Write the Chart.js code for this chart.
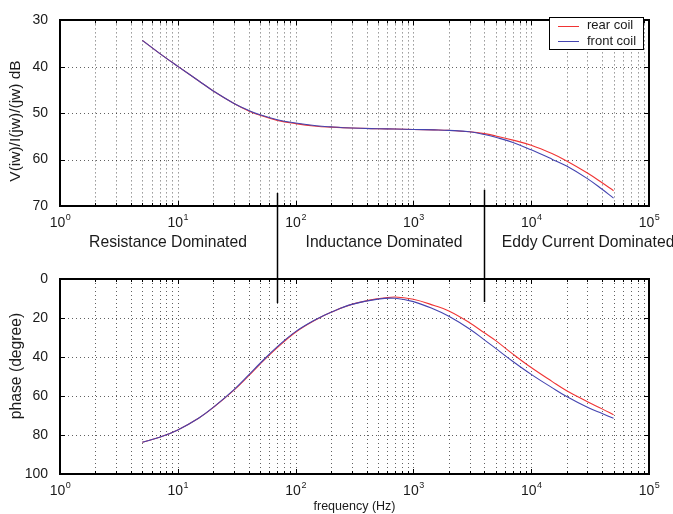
<!DOCTYPE html>
<html>
<head>
<meta charset="utf-8">
<script src="https://cdn.jsdelivr.net/npm/chart.js@4.4.1/dist/chart.umd.min.js"></script>
<style>
html,body{margin:0;padding:0;background:#fff;}
#wrap{position:relative;width:673px;height:514px;overflow:hidden;}
#c1{position:absolute;left:0;top:0;}
#c2{position:absolute;left:0;top:258px;}
</style>
</head>
<body>
<div id="wrap">
<canvas id="c1" width="673" height="258"></canvas>
<canvas id="c2" width="673" height="256"></canvas>
</div>
<script>
// ---------------- data ----------------
const frequency = [5,7,10,15,20,30,40,50,70,100,150,200,300,500,700,1000,1500,2000,3000,4000,5000,7000,10000,15000,20000,30000,40000,50000];
const rearMagnitude  = [34.3,37.1,39.9,43.0,45.2,47.9,49.5,50.45,51.55,52.25,52.8,53.0,53.2,53.35,53.42,53.5,53.6,53.7,54.0,54.4,54.9,55.8,56.9,58.7,60.3,62.9,65.0,66.7];
const frontMagnitude = [34.3,37.1,39.9,43.0,45.2,47.9,49.4,50.35,51.4,52.1,52.7,52.95,53.2,53.35,53.42,53.5,53.6,53.7,54.0,54.6,55.2,56.3,57.9,59.9,61.4,64.1,66.4,68.3];
const rearPhase  = [83.7,81.2,77.4,71.4,65.9,57.0,49.6,43.6,35.2,27.3,20.8,17.1,13.0,10.1,9.2,10.4,13.6,16.4,22.4,27.6,31.6,38.5,45.4,52.5,57.3,62.9,66.6,69.6];
const frontPhase = [83.7,81.2,77.4,71.4,65.8,56.7,49.2,43.2,34.7,27.0,20.6,17.0,13.0,10.3,9.9,11.6,15.5,19.1,25.6,31.2,35.6,42.3,48.9,55.7,60.3,65.8,69.0,71.4];
const seriesNames = ['rear coil','front coil'];
const seriesColors = ['#f03434','#4444b0'];

const decadeTicks = [1,10,100,1000,10000,100000];
const decadeExponents = ['0','1','2','3','4','5'];
const xGridTicks = [];
[1,10,100,1000,10000].forEach(d=>{ for(let m=1;m<=9;m++) xGridTicks.push(m*d); });
xGridTicks.push(100000);

const magTicks = [30,40,50,60,70];
const phaseTicks = [0,20,40,60,80,100];

const regionLabels = ['Resistance Dominated','Inductance Dominated','Eddy Current Dominated'];
const regionFreq = [8.26,563,5620];
const regionAlign = ['center','center','left'];

const markerFreq = [70,4000];
const markerMagStart = [67.2,66.5];
const markerPhaseEnd = [12.3,11.8];

const FONT = '"Liberation Sans", Arial, Helvetica, sans-serif';
const TXT = '#1a1a1a';

// ---------------- helpers ----------------
function decadeLabel(ctx, x, y, exp){
  ctx.save();
  ctx.fillStyle = TXT;
  ctx.textBaseline = 'alphabetic';
  ctx.textAlign = 'left';
  ctx.font = '14px ' + FONT;
  const w1 = ctx.measureText('10').width;
  ctx.font = '9px ' + FONT;
  const w2 = ctx.measureText(exp).width;
  const start = x - (w1 + w2) / 2;
  ctx.font = '14px ' + FONT;
  ctx.fillText('10', start, y);
  ctx.font = '9px ' + FONT;
  ctx.fillText(exp, start + w1 + 0.5, y - 7);
  ctx.restore();
}
function seg(ctx,x1,y1,x2,y2){ ctx.beginPath(); ctx.moveTo(x1,y1); ctx.lineTo(x2,y2); ctx.stroke(); }

const axesFrame = {
  id: 'axesFrame',
  beforeDatasetsDraw(chart){
    const {ctx, chartArea:a, scales:{x, y}} = chart;
    ctx.save();
    ctx.strokeStyle = 'rgba(0,0,0,0.62)';
    ctx.lineWidth = 1;
    ctx.setLineDash([1,3]);
    x.ticks.forEach(t=>{
      const px = Math.round(x.getPixelForValue(t.value)) + 0.5;
      if (px <= a.left + 2 || px >= a.right - 2) return;
      seg(ctx, px, a.top, px, a.bottom);
    });
    y.ticks.forEach(t=>{
      const py = Math.round(y.getPixelForValue(t.value)) + 0.5;
      if (py <= a.top + 2 || py >= a.bottom - 2) return;
      seg(ctx, a.left, py, a.right, py);
    });
    ctx.restore();
  },
  afterDatasetsDraw(chart){
    const {ctx, chartArea:a, scales:{x, y}} = chart;
    ctx.save();
    ctx.strokeStyle = '#000';
    ctx.lineWidth = 1;
    ctx.setLineDash([]);
    x.ticks.forEach(t=>{
      const px = Math.round(x.getPixelForValue(t.value)) + 0.5;
      const major = decadeTicks.includes(t.value);
      const L = major ? 5 : 3;
      seg(ctx, px, a.bottom, px, a.bottom - L);
      seg(ctx, px, a.top, px, a.top + L);
    });
    y.ticks.forEach(t=>{
      const py = Math.round(y.getPixelForValue(t.value)) + 0.5;
      seg(ctx, a.left, py, a.left + 5, py);
      seg(ctx, a.right, py, a.right - 5, py);
    });
    ctx.lineWidth = 2;
    ctx.strokeRect(Math.round(a.left), Math.round(a.top), Math.round(a.right - a.left), Math.round(a.bottom - a.top));
    ctx.restore();
  },
  afterDraw(chart){
    const {ctx, chartArea:a, scales:{x}} = chart;
    decadeTicks.forEach((v,i)=>{
      decadeLabel(ctx, x.getPixelForValue(v), a.bottom + 21, decadeExponents[i]);
    });
  }
};

function makeDatasets(a, b){
  return [
    {label: seriesNames[0], data: frequency.map((f,i)=>({x:f, y:a[i]})), borderColor: seriesColors[0], order: 1},
    {label: seriesNames[1], data: frequency.map((f,i)=>({x:f, y:b[i]})), borderColor: seriesColors[1], order: 0}
  ].map(d=>Object.assign(d, {borderWidth:1.1, pointRadius:0, fill:false, tension:0.4}));
}

function makeOptions(yMin, yMax, yStep, yTickList, padTop, xHeight){
  return {
    responsive: false,
    animation: false,
    devicePixelRatio: 1,
    layout: {padding: {top: padTop, right: 24, left: 0, bottom: 0}},
    plugins: {legend: {display:false}, tooltip: {enabled:false}, title:{display:false}},
    scales: {
      x: {
        type: 'logarithmic', min: 1, max: 100000,
        afterBuildTicks(s){ s.ticks = xGridTicks.map(v=>({value:v})); },
        afterFit(s){ s.height = xHeight; },
        ticks: {display:false},
        grid: {display:false, drawTicks:false},
        border: {display:false}
      },
      y: {
        type: 'linear', min: yMin, max: yMax, reverse: true,
        afterBuildTicks(s){ s.ticks = yTickList.map(v=>({value:v})); },
        afterFit(s){ s.width = 60; },
        ticks: {color: TXT, font: {family: FONT, size: 14}, padding: 12, stepSize: yStep},
        grid: {display:false, drawTicks:false},
        border: {display:false}
      }
    }
  };
}

// ---------------- top chart ----------------
const topExtras = {
  id: 'topExtras',
  afterDraw(chart){
    const {ctx, chartArea:a, scales:{x, y}} = chart;
    ctx.save();
    ctx.fillStyle = TXT;
    ctx.font = '15.5px ' + FONT;
    ctx.textAlign = 'center';
    ctx.textBaseline = 'middle';
    ctx.translate(16, 121);
    ctx.rotate(-Math.PI/2);
    ctx.fillText('V(iw)/I(jw)/(jw) dB', 0, 0);
    ctx.restore();

    ctx.save();
    ctx.fillStyle = TXT;
    ctx.font = '15.7px ' + FONT;
    ctx.textBaseline = 'middle';
    regionLabels.forEach((t,i)=>{
      ctx.textAlign = regionAlign[i];
      ctx.fillText(t, x.getPixelForValue(regionFreq[i]), a.bottom + 37);
    });
    ctx.restore();

    ctx.save();
    ctx.strokeStyle = '#000';
    ctx.lineWidth = 1.5;
    markerFreq.forEach((f,i)=>{
      const px = Math.round(x.getPixelForValue(f)) + 0.5;
      seg(ctx, px, y.getPixelForValue(markerMagStart[i]), px, chart.height);
    });
    ctx.restore();

    ctx.save();
    const lx = 549, ly = 17, lw = 94, lh = 32;
    ctx.fillStyle = '#fff';
    ctx.fillRect(lx, ly, lw, lh);
    ctx.strokeStyle = '#000';
    ctx.lineWidth = 1;
    ctx.strokeRect(lx + 0.5, ly + 0.5, lw, lh);
    ctx.font = '13px ' + FONT;
    ctx.textAlign = 'left';
    ctx.textBaseline = 'middle';
    chart.data.datasets.forEach((d,i)=>{
      const yy = ly + 8.5 + i * 15.5;
      ctx.strokeStyle = d.borderColor;
      ctx.lineWidth = 1;
      seg(ctx, lx + 9, Math.round(yy) + 0.5, lx + 30, Math.round(yy) + 0.5);
      ctx.fillStyle = TXT;
      ctx.fillText(d.label, lx + 38, yy);
    });
    ctx.restore();
  }
};

new Chart(document.getElementById('c1'), {
  type: 'line',
  data: {datasets: makeDatasets(rearMagnitude, frontMagnitude)},
  options: makeOptions(30, 70, 10, magTicks, 10, 52),
  plugins: [axesFrame, topExtras]
});

// ---------------- bottom chart ----------------
const bottomExtras = {
  id: 'bottomExtras',
  afterDraw(chart){
    const {ctx, chartArea:a, scales:{x, y}} = chart;
    ctx.save();
    ctx.fillStyle = TXT;
    ctx.font = '15.7px ' + FONT;
    ctx.textAlign = 'center';
    ctx.textBaseline = 'middle';
    ctx.translate(17, 108);
    ctx.rotate(-Math.PI/2);
    ctx.fillText('phase (degree)', 0, 0);
    ctx.restore();

    ctx.save();
    ctx.fillStyle = TXT;
    ctx.font = '12.5px ' + FONT;
    ctx.textAlign = 'center';
    ctx.textBaseline = 'middle';
    ctx.fillText('frequency (Hz)', (a.left + a.right) / 2, a.bottom + 33);
    ctx.restore();

    ctx.save();
    ctx.strokeStyle = '#000';
    ctx.lineWidth = 1.5;
    markerFreq.forEach((f,i)=>{
      const px = Math.round(x.getPixelForValue(f)) + 0.5;
      seg(ctx, px, 0, px, y.getPixelForValue(markerPhaseEnd[i]));
    });
    ctx.restore();
  }
};

new Chart(document.getElementById('c2'), {
  type: 'line',
  data: {datasets: makeDatasets(rearPhase, frontPhase)},
  options: makeOptions(0, 100, 20, phaseTicks, 21, 40),
  plugins: [axesFrame, bottomExtras]
});
</script>
</body>
</html>
